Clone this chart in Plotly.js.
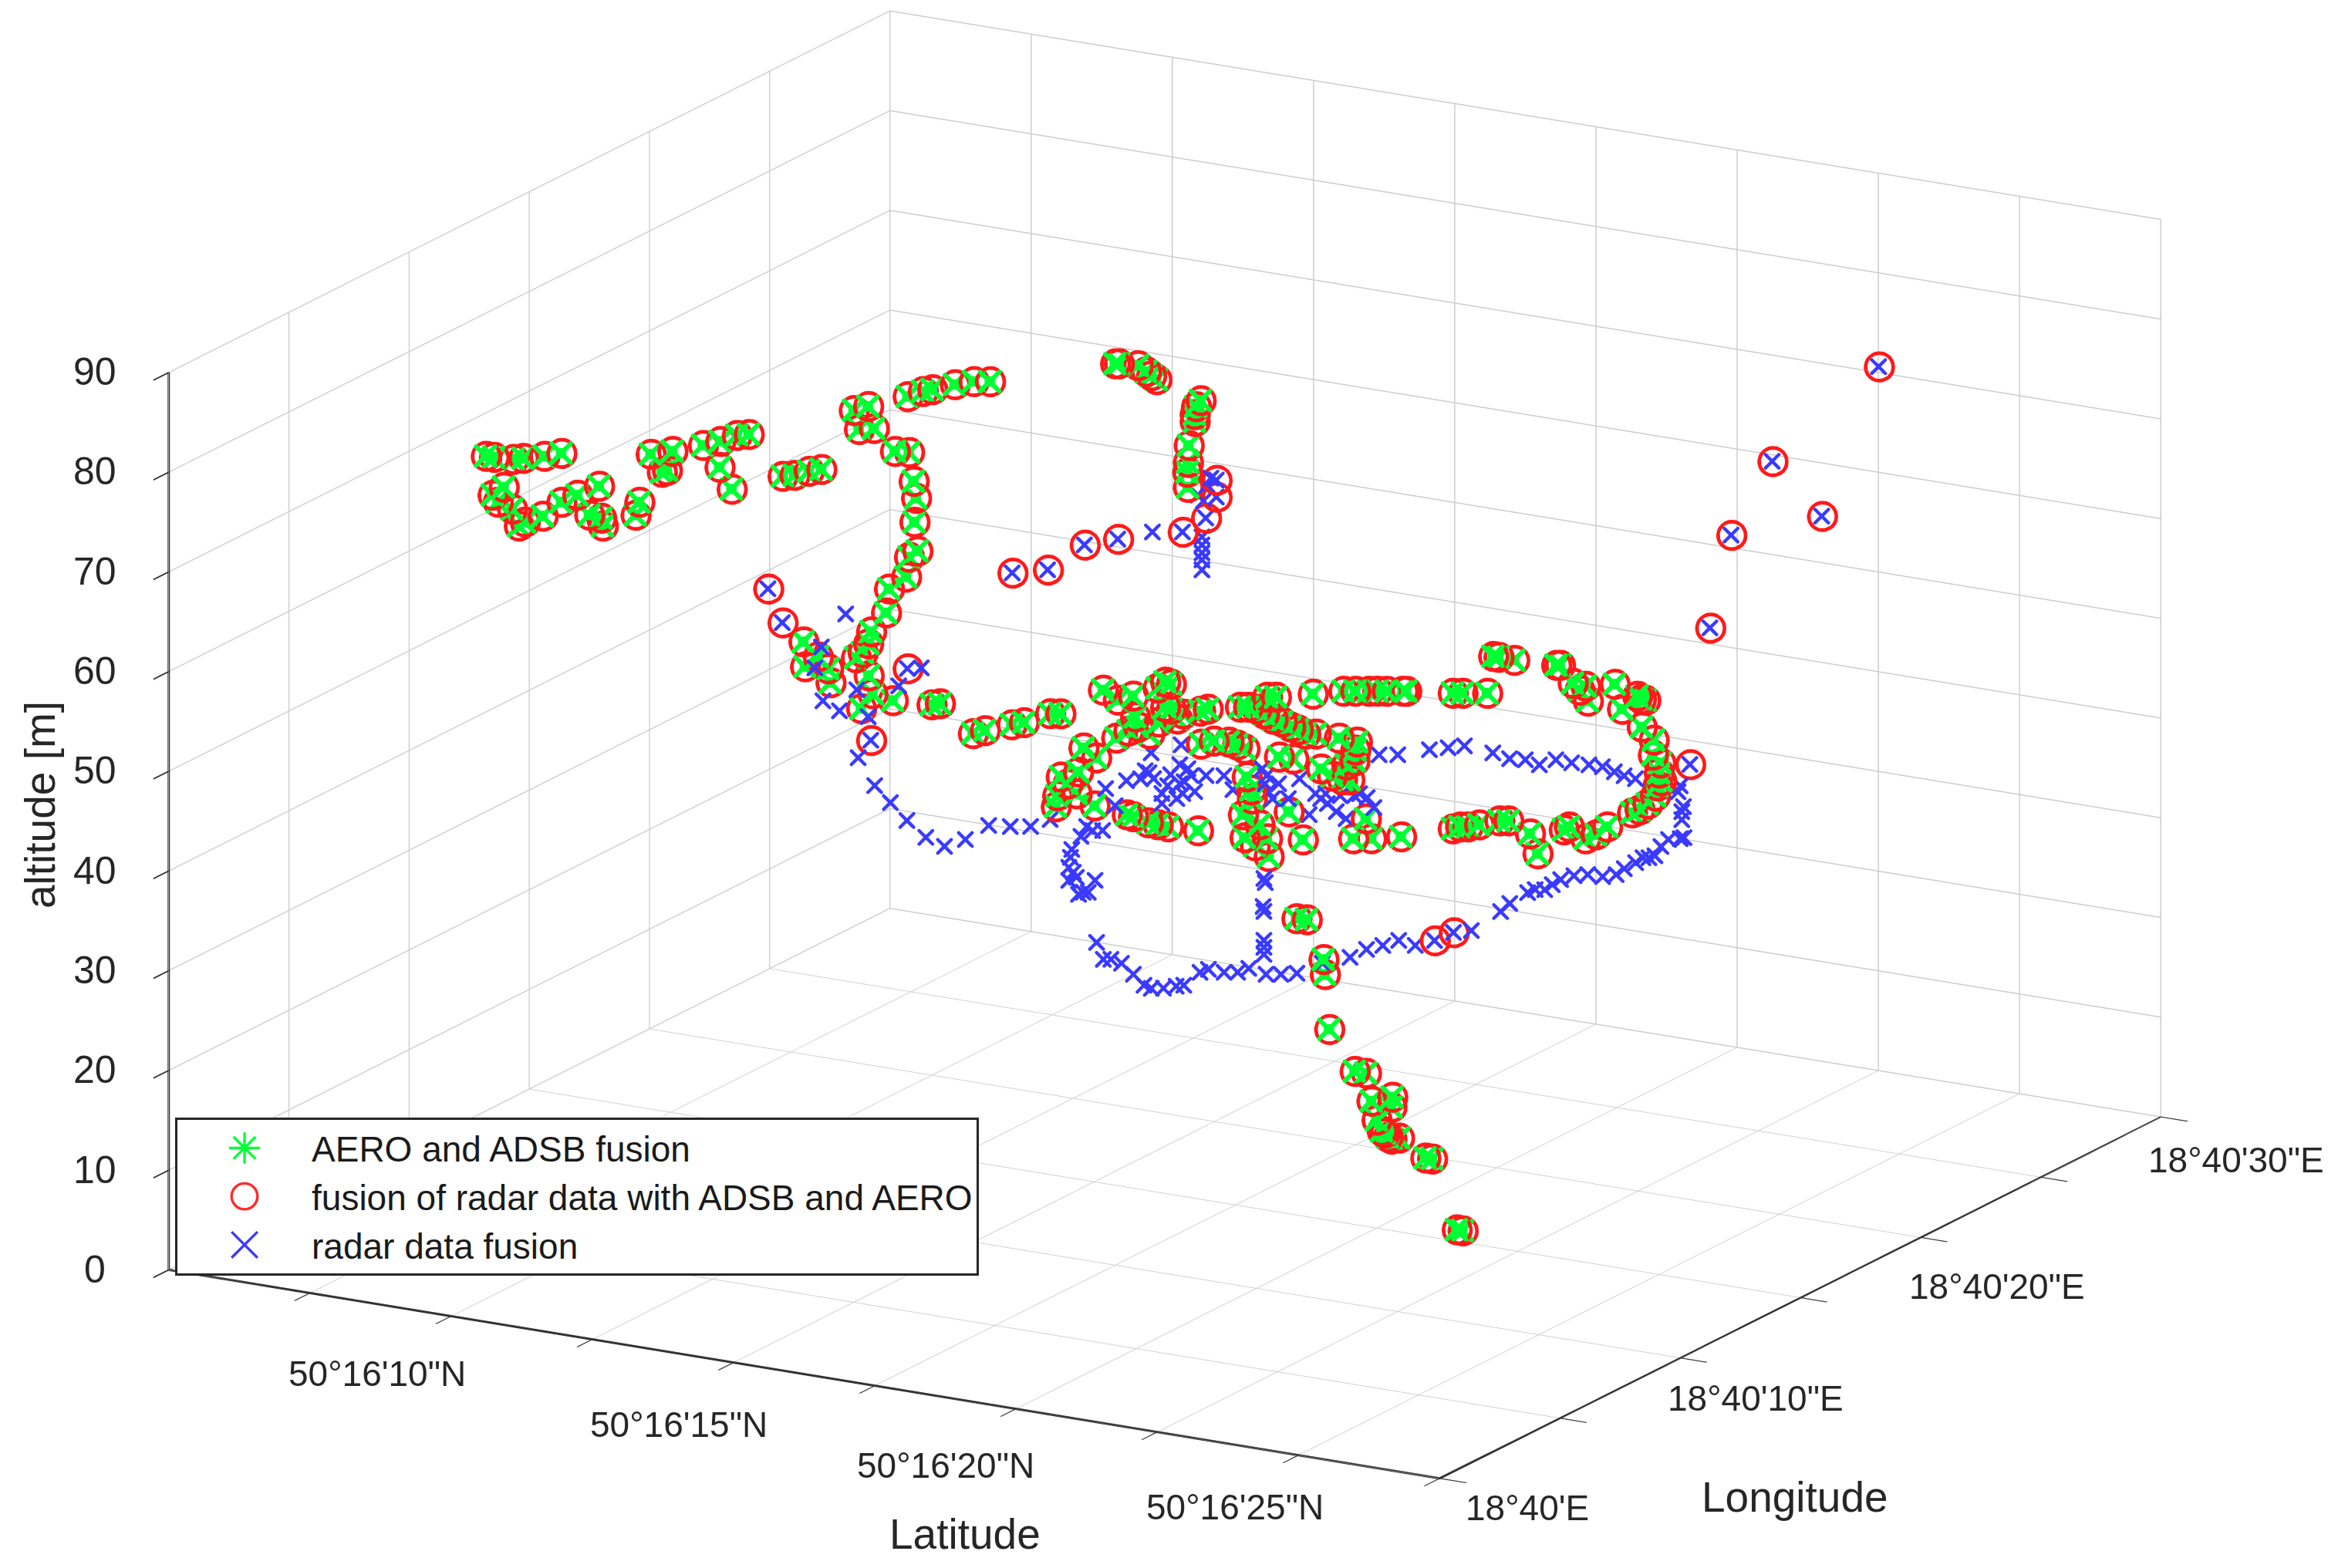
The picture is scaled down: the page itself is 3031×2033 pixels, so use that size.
<!DOCTYPE html><html><head><meta charset="utf-8"><script src="https://cdn.plot.ly/plotly-3.0.1.min.js"></script><style>html,body{margin:0;background:#fff}</style></head><body><div id="g" style="width:3031px;height:2033px"></div><script>
// seconds of arc past 50°16' N / 18°40' E, altitude in metres
var aeroLat=[7.63,7.74,8.00,8.13,8.41,8.64,7.87,7.72,7.79,7.98,8.07,8.15,8.39,8.64,8.85,9.14,9.01,9.17,9.19,9.68,9.63,9.83,10.12,9.98,10.05,10.53,10.76,10.98,11.14,10.75,10.91,11.59,11.75,11.94,12.11,12.54,12.73,12.61,12.81,13.26,13.46,13.59,13.89,14.14,14.36,13.09,13.28,13.34,13.37,13.35,13.39,13.28,13.24,13.01,12.97,12.77,12.73,12.57,12.66,11.87,12.06,11.89,12.20,12.23,12.74,12.79,12.64,13.06,13.58,13.69,14.13,14.29,14.65,14.81,15.16,15.30,16.03,16.08,16.33,16.44,16.51,16.58,17.17,17.11,17.09,17.09,17.01,17.00,16.99,17.00,
19.70,19.87,19.63,19.40,19.35,19.61,19.85,19.33,19.49,19.96,20.16,20.36,20.69,20.79,20.87,20.14,20.39,20.58,20.71,20.87,21.03,20.79,20.95,20.43,20.30,21.36,21.26,21.79,21.90,22.01,22.15,22.27,22.11,22.23,22.35,22.46,22.56,22.66,22.80,22.76,23.17,23.33,23.51,23.62,23.75,23.96,23.11,23.35,23.32,22.87,23.02,23.15,23.25,23.21,23.33,21.27,21.44,21.64,21.75,21.85,22.31,22.50,21.88,21.94,21.95,21.83,22.05,21.85,22.15,22.17,21.99,22.44,22.63,23.47,23.30,23.54,23.94,20.28,20.36,20.56,20.69,20.83,21.23,
24.01,24.63,24.76,25.09,25.17,25.24,25.45,26.01,26.06,26.23,26.40,26.43,26.32,26.79,26.89,27.14,27.20,27.09,27.15,27.31,27.30,27.40,27.38,27.41,27.36,27.33,27.23,27.12,27.02,26.69,26.54,26.40,26.11,26.18,25.66,25.76,25.37,25.25,24.98,24.83,24.73,24.63,
24.59,24.73,24.95,24.97,25.03,25.37,25.52,25.87,25.59,25.86,25.66,25.73,25.77,25.81,25.86,25.96,26.31,26.40,26.73,26.81];
var aeroLon=[12.87,12.95,13.15,13.25,13.47,13.64,13.05,12.94,12.99,13.14,13.21,13.27,13.45,13.64,13.81,14.03,13.93,14.05,14.07,14.44,14.40,14.56,14.78,14.67,14.72,15.09,15.27,15.44,15.56,15.26,15.39,15.91,16.03,16.18,16.30,16.64,16.79,16.69,16.84,17.19,17.35,17.44,17.67,17.87,18.03,17.06,17.20,17.25,17.28,17.26,17.29,17.20,17.17,17.00,16.97,16.82,16.79,16.66,16.73,16.12,16.27,16.14,16.37,16.40,16.79,16.83,16.71,17.04,17.43,17.52,17.86,17.98,18.25,18.38,18.65,18.75,19.31,19.35,19.55,19.63,19.68,19.74,20.19,20.14,20.13,20.13,20.07,20.06,20.06,20.06,
9.37,9.50,9.31,9.13,9.10,9.30,9.48,9.09,9.20,9.57,9.72,9.88,10.13,10.21,10.26,9.70,9.90,10.04,10.14,10.26,10.39,10.21,10.33,9.93,9.83,10.64,10.56,10.97,11.05,11.14,11.25,11.34,11.22,11.30,11.40,11.49,11.57,11.64,11.75,11.72,12.03,12.15,12.29,12.38,12.47,12.64,11.98,12.17,12.14,11.80,11.91,12.02,12.09,12.06,12.15,10.57,10.70,10.85,10.94,11.02,11.37,11.52,11.04,11.08,11.09,11.00,11.17,11.02,11.25,11.27,11.12,11.47,11.61,12.26,12.13,12.32,12.62,9.81,9.88,10.03,10.13,10.23,10.54,
12.67,13.15,13.25,13.50,13.56,13.62,13.78,14.21,14.25,14.38,14.51,14.54,14.45,14.81,14.88,15.08,15.12,15.04,15.09,15.21,15.20,15.28,15.26,15.29,15.25,15.22,15.14,15.07,14.99,14.73,14.62,14.51,14.29,14.34,13.94,14.02,13.72,13.63,13.42,13.30,13.22,13.15,
6.74,6.84,7.02,7.03,7.07,7.33,7.45,7.72,7.51,7.71,7.56,7.61,7.64,7.67,7.71,7.79,8.06,8.13,8.38,8.44];
var aeroAlt=[66.2,66.1,65.9,66.0,66.2,66.5,63.1,62.3,61.6,60.9,59.2,59.6,60.2,61.6,62.3,63.2,60.3,60.0,59.2,61.6,60.3,66.4,66.7,64.6,64.8,67.3,67.7,68.3,68.4,65.1,62.9,64.2,64.3,64.7,64.9,70.8,71.2,68.9,69.0,72.2,72.7,72.9,73.4,73.7,73.7,66.7,66.6,63.7,62.0,59.6,56.7,56.1,54.1,52.9,50.5,48.6,47.4,46.0,46.5,47.6,46.1,45.1,44.9,43.5,44.2,42.4,40.9,41.7,41.3,41.4,38.4,38.7,39.3,39.5,40.4,40.4,75.5,75.5,75.3,74.7,74.3,73.9,71.8,71.2,70.4,69.7,67.3,65.6,64.6,63.1,
52.4,51.4,50.0,49.5,47.6,47.8,46.6,46.5,48.8,58.2,57.2,57.6,58.4,59.0,58.8,53.4,55.5,53.8,55.0,56.3,55.8,56.5,55.3,54.5,54.1,56.3,56.1,56.5,56.5,56.3,57.5,57.5,55.8,55.3,55.0,54.5,54.2,53.8,53.8,57.8,58.1,58.1,58.1,58.1,58.1,58.1,53.4,53.0,51.1,50.3,49.6,49.2,49.2,50.7,52.2,52.8,53.1,53.0,52.7,52.3,51.5,51.3,49.5,48.2,47.3,45.7,44.7,43.4,43.3,41.5,42.6,46.0,43.2,45.3,43.3,43.3,43.5,45.7,45.5,44.9,44.7,44.5,44.1,
58.1,57.9,57.9,57.9,61.6,61.5,61.2,60.7,60.7,58.9,58.6,57.1,58.2,58.8,56.3,57.3,57.2,57.6,54.5,53.2,51.7,50.9,49.9,49.1,48.6,47.6,46.8,46.2,45.9,44.5,43.7,43.3,44.2,44.5,43.8,41.8,45.1,45.1,44.7,44.5,44.5,44.3,
43.0,42.9,38.9,37.4,31.9,27.7,27.5,25.1,24.7,24.1,22.8,21.7,21.5,21.1,20.9,21.0,19.0,18.9,11.8,11.7];

var fusedOnlyLat=[11.40,11.59,13.26,12.77,16.93,16.07,15.62,15.13,14.66,17.38,17.38,17.24,23.70,26.22,24.80,24.25,25.46,23.97,26.44,26.69];
var fusedOnlyLon=[15.76,15.91,17.19,16.82,20.01,19.34,19.01,18.63,18.26,20.36,20.36,20.25,25.21,27.14,26.05,25.63,26.56,25.41,8.15,8.35];
var fusedOnlyAlt=[52.9,49.5,44.9,37.7,58.6,57.9,57.3,54.8,54.5,63.8,62.1,60.0,35.3,75.2,65.7,58.3,60.2,49.0,40.8,41.6];

var radarOnlyLat=[16.53,16.21,16.12,16.23,16.45,16.68,16.83,17.24,17.54,16.70,16.92,17.13,17.35,17.60,17.85,18.13,18.44,18.73,19.00,19.26,19.55,19.53,19.51,19.57,19.51,19.61,19.86,19.70,19.64,19.77,19.67,19.75,19.96,19.83,20.00,20.13,20.28,20.58,20.53,20.47,20.64,21.01,20.61,20.99,20.99,20.87,21.14,21.34,21.19,20.95,20.75,20.75,21.03,20.83,21.10,21.05,21.58,21.70,22.15,22.13,22.17,22.23,22.09,22.31,22.59,22.44,22.44,22.72,22.87,22.96,23.08,23.21,23.13,23.32,23.49,23.58,23.47,22.80,22.94,23.39,
23.65,23.90,24.32,24.57,24.79,25.17,25.39,25.60,25.79,26.01,26.22,26.45,26.63,26.79,26.92,27.07,27.64,27.67,27.71,27.69,27.69,27.67,27.72,27.51,27.41,
16.53,17.19,17.19,17.19,17.19,17.19,17.21,17.14,17.31,17.26,
24.16,24.18,24.15,24.16,24.16,24.16,24.16,
21.93,22.02,22.12,22.26,22.42,22.56,22.66,22.82,22.99,23.09,23.31,23.42,23.63,23.81,23.96,24.19,24.39,24.60,24.94,25.31,25.53,25.75,25.96,26.18,26.93,27.32,27.44,27.68,27.78,27.91,28.01,28.12,28.30,28.48,28.68,28.86,28.97,29.12,29.22,29.30,29.38];
var radarOnlyLon=[6.94,6.68,6.62,6.70,6.87,7.05,7.17,7.48,7.71,7.06,7.23,7.39,7.56,7.76,7.95,8.16,8.40,8.62,8.83,9.03,9.25,9.24,9.22,9.27,9.22,9.30,9.49,9.37,9.32,9.42,9.35,9.40,9.57,9.46,9.60,9.69,9.81,10.04,10.00,9.95,10.09,10.37,10.06,10.36,10.36,10.26,10.48,10.63,10.51,10.33,10.18,10.18,10.39,10.23,10.44,10.40,10.81,10.90,11.25,11.23,11.27,11.30,11.20,11.37,11.58,11.47,11.47,11.68,11.80,11.87,11.96,12.06,12.00,12.14,12.28,12.35,12.26,11.75,11.85,12.20,
12.40,12.59,12.92,13.11,13.27,13.56,13.74,13.90,14.04,14.21,14.37,14.55,14.69,14.81,14.91,15.03,15.46,15.48,15.52,15.50,15.50,15.48,15.52,15.37,15.29,
19.70,20.21,20.21,20.21,20.21,20.21,20.22,20.17,20.30,20.26,
6.41,6.42,6.40,6.41,6.41,6.41,6.41,
4.69,4.76,4.84,4.95,5.07,5.18,5.25,5.38,5.51,5.59,5.75,5.84,6.00,6.14,6.25,6.43,6.58,6.75,7.01,7.29,7.46,7.62,7.79,7.96,8.53,8.83,8.93,9.11,9.19,9.28,9.36,9.45,9.58,9.73,9.88,10.02,10.10,10.22,10.29,10.35,10.41];
var radarOnlyAlt=[65.8,62.5,60.4,57.1,56.1,58.2,55.5,58.6,60.4,51.4,48.6,46.9,45.1,43.4,42.5,43.2,44.6,44.5,44.5,45.2,42.2,41.4,40.4,39.9,39.1,39.4,39.1,37.9,37.7,37.9,43.5,44.5,44.1,44.1,48.3,46.6,49.1,49.9,50.1,49.3,49.3,52.7,51.9,50.7,48.8,49.7,49.6,49.6,48.0,47.3,46.8,47.8,47.8,48.6,50.3,49.0,49.6,48.2,49.6,48.8,48.0,47.3,50.3,48.8,49.3,47.3,46.0,45.7,47.3,46.8,46.0,45.3,47.6,47.6,47.4,46.4,45.3,47.8,47.8,47.8,
51.7,51.7,52.2,52.4,52.6,51.9,51.3,51.2,50.7,51.2,50.9,50.7,50.5,50.0,49.6,49.3,48.0,48.6,46.5,46.0,45.2,43.3,43.4,43.2,42.5,
58.6,58.1,57.3,56.5,55.8,54.8,61.7,62.3,64.0,63.3,
47.0,46.6,44.2,43.7,40.8,40.1,39.4,
40.6,38.9,38.9,38.5,37.4,36.3,36.0,36.0,36.2,36.3,37.6,37.9,37.6,37.6,38.0,37.4,37.4,37.5,38.5,39.1,39.9,40.3,40.8,40.3,41.8,43.7,44.5,45.6,45.9,45.9,46.4,46.9,47.3,47.4,47.2,47.4,48.0,48.6,49.1,49.1,49.3];

var latTicks=[7.5,10,12.5,15,17.5,20,22.5,25,27.5,30];
var lonTicks=[0,5,10,15,20,25,30];
var altTicks=[0,10,20,30,40,50,60,70,80,90];
var latLabels={10:'50°16\'10"N',15:'50°16\'15"N',20:'50°16\'20"N',25:'50°16\'25"N'};
var lonLabels={0:'18°40\'E',10:'18°40\'10"E',20:'18°40\'20"E',30:'18°40\'30"E'};
var seriesNames=['AERO and ADSB fusion','fusion of radar data with ADSB and AERO','radar data fusion'];

var latShift={10:[87,-104],15:[112,-110],20:[92,-103],25:[101,-97]};
var lonShift={0:[114,-38],10:[98,-52],20:[99,-63],30:[98,-56]};
var tickFont={family:'Liberation Sans, Arial, sans-serif',size:46,color:'#262626'};
var annos=[];
Object.keys(latLabels).forEach(function(k){annos.push({x:+k,y:0,z:0,text:latLabels[k],showarrow:false,xanchor:'center',yanchor:'middle',xshift:latShift[k][0],yshift:latShift[k][1],font:tickFont});});
Object.keys(lonLabels).forEach(function(k){annos.push({x:30,y:+k,z:0,text:lonLabels[k],showarrow:false,xanchor:'center',yanchor:'middle',xshift:lonShift[k][0],yshift:lonShift[k][1],font:tickFont});});
altTicks.forEach(function(v){annos.push({x:7.6,y:0,z:v,text:String(v),showarrow:false,xanchor:'center',yanchor:'middle',xshift:-103,yshift:2,font:{family:tickFont.family,size:50,color:'#262626'}});});

var d=1.5;
var ax={showticklabels:false,gridcolor:'#cdcdcd',gridwidth:3,showbackground:false,showline:true,linecolor:'#333333',linewidth:4,ticks:'outside',ticklen:40,tickwidth:4,tickcolor:'#333333',zeroline:false,showspikes:false,title:{text:''}};
function mk3d(x,y,z,name,sym,size,color,group){return {type:'scatter3d',mode:'markers',x:x,y:y,z:z,name:name,legendgroup:group,showlegend:false,hoverinfo:'skip',marker:{symbol:sym,size:size,color:color,opacity:1}};}
function mkLeg(i,sym,color){return {type:'scatter',mode:'markers',x:[null],y:[null],name:seriesNames[i],legendgroup:'g'+i,showlegend:true,marker:{symbol:sym,size:16,color:color,line:{color:color,width:1.6}},hoverinfo:'skip'};}
var red=aeroLat.concat(fusedOnlyLat),redLon=aeroLon.concat(fusedOnlyLon),redAlt=aeroAlt.concat(fusedOnlyAlt);
var blu=radarOnlyLat.concat(fusedOnlyLat),bluLon=radarOnlyLon.concat(fusedOnlyLon),bluAlt=radarOnlyAlt.concat(fusedOnlyAlt);
var latEnd=latTicks[latTicks.length-1],lonEnd=lonTicks[lonTicks.length-1],altEnd=altTicks[altTicks.length-1];
var frame={type:'scatter3d',mode:'lines',x:[latTicks[0],latEnd,latEnd,null,latTicks[0],latTicks[0]],y:[0,0,lonEnd,null,0,0],z:[0,0,0,null,0,altEnd],line:{color:'#333333',width:6},showlegend:false,hoverinfo:'skip',name:'axes'};
var traces=[frame,
 mk3d(blu,bluLon,bluAlt,seriesNames[2],'x',5,'#3a3aff','g2'),
 mk3d(red,redLon,redAlt,seriesNames[1],'circle-open',22,'#ff1a1a','g1'),
 mk3d(red,redLon,redAlt,seriesNames[1],'circle-open',23,'#ff1a1a','g1'),
 mk3d(aeroLat,aeroLon,aeroAlt,seriesNames[0],'circle',8,'#00ff33','g0'),
 mk3d(aeroLat,aeroLon,aeroAlt,seriesNames[0],'cross',6,'#00ff33','g0'),
 mk3d(aeroLat,aeroLon,aeroAlt,seriesNames[0],'x',7,'#00ff33','g0'),
 mkLeg(0,'asterisk-open','#00ff33'),mkLeg(1,'circle-open','#ff2a2a'),mkLeg(2,'x-thin-open','#3a3aff')];
var titleFont={family:'Liberation Sans, Arial, sans-serif',size:55,color:'#262626'};
function title(text,px,py,angle){return {xref:'paper',yref:'paper',x:px/3031,y:1-py/2033,xanchor:'center',yanchor:'middle',text:text,textangle:angle,showarrow:false,font:titleFont};}
var layout={width:3031,height:2033,margin:{l:0,r:0,t:0,b:0},paper_bgcolor:'#fff',plot_bgcolor:'rgba(0,0,0,0)',
 xaxis:{visible:false},yaxis:{visible:false},
 showlegend:true,legend:{x:0.0749,xanchor:'left',y:0.2873,yanchor:'top',bgcolor:'#fff',bordercolor:'#262626',borderwidth:3,font:{family:'Liberation Sans, Arial, sans-serif',size:46,color:'#1a1a1a'},itemwidth:164,tracegroupgap:0,traceorder:'grouped',itemclick:false,itemdoubleclick:false},
 annotations:[title('altitude [m]',52,1044,-90),title('Latitude',1251,1989,0),title('Longitude',2327,1941,0)],
 scene:{domain:{x:[0,0.9964],y:[0.05,1]},aspectmode:'manual',aspectratio:{x:1.966,y:1.95,z:1.258},
  camera:{projection:{type:'orthographic'},up:{x:0,y:0,z:1},center:{x:0,y:0,z:0},eye:{x:d*0.476,y:-d*0.832,z:d*0.287}},
  annotations:annos,
  xaxis:Object.assign({},ax,{range:[7.5,30],tickmode:'array',tickvals:latTicks}),
  yaxis:Object.assign({},ax,{range:[0,30],tickmode:'array',tickvals:lonTicks}),
  zaxis:Object.assign({},ax,{range:[0,90],tickmode:'array',tickvals:altTicks})}};
Plotly.newPlot('g',traces,layout,{displayModeBar:false}).then(function(){
 document.querySelectorAll('.legend .scatterpts').forEach(function(p){var t=p.getAttribute('transform')||'';p.setAttribute('transform',t+' scale(2.1)');});
});
</script></body></html>
